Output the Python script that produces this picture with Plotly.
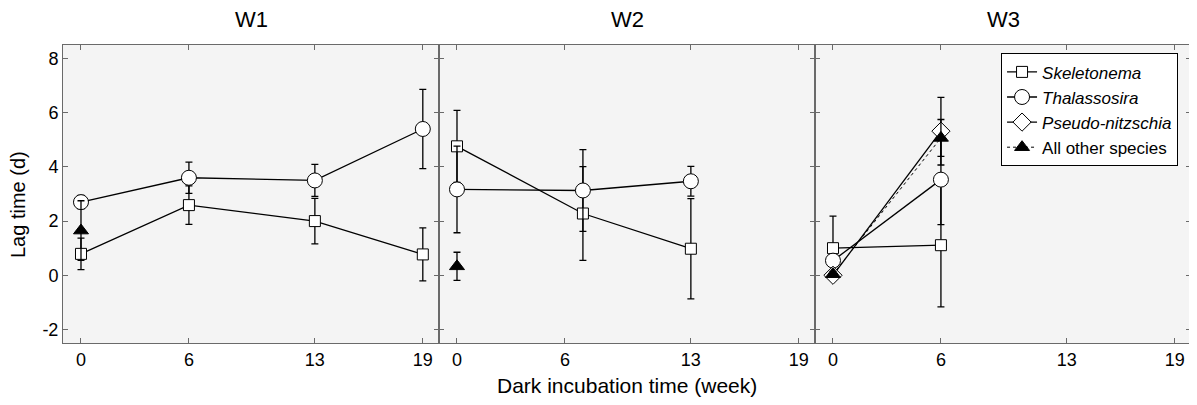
import plotly.graph_objects as go
from plotly.subplots import make_subplots

# ---- data ----
panels = ["W1", "W2", "W3"]
week_ticks = [0, 6, 13, 19]
y_ticks = [-2, 0, 2, 4, 6, 8]
y_tick_text = ["-2", "0", "2", "4", "6", "8"]

weeks_w1 = [0, 6, 13, 19]
skel_w1 = [0.79, 2.59, 2.00, 0.77]
skel_w1_err = [0.58, 0.71, 0.84, 0.98]
thal_w1 = [2.70, 3.60, 3.50, 5.40]
thal_w1_err = [0.25, 0.58, 0.59, 1.46]
other_w1_x = [0]
other_w1 = [1.65]
other_w1_err = [1.10]

weeks_w2 = [0, 7, 13]
skel_w2 = [4.76, 2.28, 0.98]
skel_w2_err = [1.33, 1.73, 1.85]
thal_w2 = [3.17, 3.13, 3.47]
thal_w2_err = [1.60, 1.51, 0.55]
other_w2_x = [0]
other_w2 = [0.33]
other_w2_err = [0.52]

weeks_w3 = [0, 6]
skel_w3 = [1.00, 1.11]
skel_w3_err = [1.18, 2.28]
thal_w3 = [0.54, 3.53]
thal_w3_err = [0.20, 1.66]
pseudo_w3 = [0.00, 5.32]
pseudo_w3_err = [0.10, 1.25]
other_w3 = [0.04, 5.07]
other_w3_err = [0.10, 0.68]

FONT = "Liberation Sans, Arial, sans-serif"

fig = make_subplots(rows=1, cols=3, shared_yaxes=True, horizontal_spacing=0)

def err(vals):
    return dict(type="data", array=vals, visible=True, color="black",
                thickness=1.3, width=3.5)

SK, TH, PN, OT = "<i>Skeletonema</i>", "<i>Thalassosira</i>", "<i>Pseudo-nitzschia</i>", "All other species"
RANK = {SK: 1, TH: 2, PN: 3, OT: 4}

def add(col, x, y, e, name, symbol, size, fill, dash, legend):
    fig.add_trace(go.Scatter(
        x=x, y=y, error_y=err(e), mode="lines+markers", name=name,
        line=dict(color="black", width=1.3 if dash == "solid" else 1.0, dash=dash),
        marker=dict(symbol=symbol, size=size, color=fill,
                    line=dict(color="black", width=1)),
        showlegend=legend, legendrank=RANK[name]),
        row=1, col=col)

add(1, weeks_w1, skel_w1, skel_w1_err, SK, "square", 11, "white", "solid", False)
add(1, weeks_w1, thal_w1, thal_w1_err, TH, "circle", 15, "white", "solid", False)
add(1, other_w1_x, other_w1, other_w1_err, OT, "triangle-up", 13, "black", "dot", False)

add(2, weeks_w2, skel_w2, skel_w2_err, SK, "square", 11, "white", "solid", False)
add(2, weeks_w2, thal_w2, thal_w2_err, TH, "circle", 15, "white", "solid", False)
add(2, other_w2_x, other_w2, other_w2_err, OT, "triangle-up", 13, "black", "dot", False)

add(3, weeks_w3, skel_w3, skel_w3_err, SK, "square", 11, "white", "solid", True)
add(3, weeks_w3, thal_w3, thal_w3_err, TH, "circle", 15, "white", "solid", True)
add(3, weeks_w3, pseudo_w3, pseudo_w3_err, PN, "diamond", 14, "white", "solid", True)
add(3, weeks_w3, other_w3, other_w3_err, OT, "triangle-up", 13, "black", "dot", True)

axis_common = dict(showline=True, linecolor="#6a6a6a", linewidth=1, mirror="ticks",
                   ticks="inside", ticklen=5, tickcolor="#6a6a6a", showgrid=False,
                   zeroline=False, automargin=False,
                   tickfont=dict(size=18, color="black", family=FONT))

for c in range(1, 4):
    fig.update_xaxes(range=[-1, 19.9], tickvals=week_ticks, **axis_common, row=1, col=c)
    fig.update_yaxes(range=[-2.5, 8.5], tickvals=y_ticks, ticktext=y_tick_text,
                     **axis_common, row=1, col=c)

annotations = []
for i, p in enumerate(panels):
    annotations.append(dict(text=p, x=(i + 0.5) / 3, y=1.084, xref="paper", yref="paper",
                            showarrow=False, font=dict(size=22, family=FONT, color="black"),
                            xanchor="center", yanchor="middle"))
annotations.append(dict(text="Dark incubation time (week)", x=0.5, y=-0.141, xref="paper",
                        yref="paper", showarrow=False, xanchor="center", yanchor="middle",
                        font=dict(size=21, family=FONT, color="black")))
annotations.append(dict(text="Lag time (d)", x=-0.04, y=0.466, xref="paper", yref="paper",
                        showarrow=False, textangle=-90, xanchor="center", yanchor="middle",
                        font=dict(size=20, family=FONT, color="black")))

# page body has an 8px default margin, so the figure is sized to fit the 1197x405 window
fig.update_layout(
    width=1189, height=397,
    margin=dict(l=55, r=6, t=37, b=62, autoexpand=False),
    paper_bgcolor="white", plot_bgcolor="#f4f4f4",
    font=dict(family=FONT, color="black"),
    annotations=annotations,
    legend=dict(x=0.8316, y=0.972, xanchor="left", yanchor="top",
                bgcolor="white", bordercolor="black", borderwidth=1,
                font=dict(size=17, family=FONT, color="black"),
                tracegroupgap=0, itemwidth=30),
)

fig.write_html("out.html")
